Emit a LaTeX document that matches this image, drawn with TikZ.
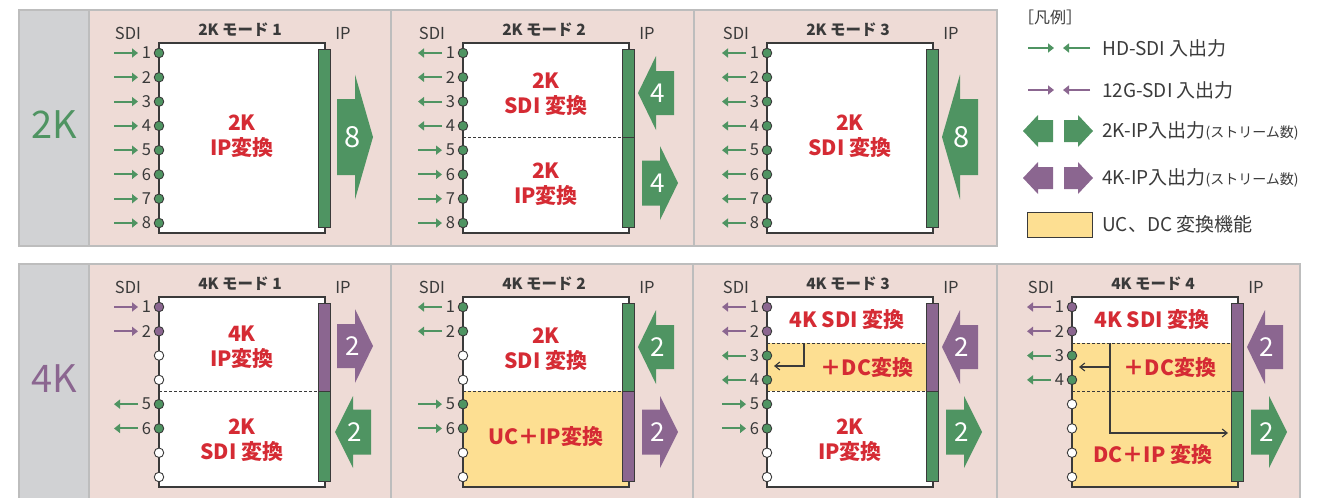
\documentclass[tikz,border=0pt]{standalone}
\usepackage{fontspec}
\setmainfont{Noto Sans CJK JP}
\usetikzlibrary{arrows.meta}
\definecolor{pinkbg}{HTML}{EEDBD6}
\definecolor{graycol}{HTML}{D1D2D4}
\definecolor{bordergray}{HTML}{BDBDBD}
\definecolor{grn}{HTML}{4F9462}
\definecolor{pur}{HTML}{8B6690}
\definecolor{redt}{HTML}{D52B34}
\definecolor{yel}{HTML}{FDDF92}
\definecolor{dk}{HTML}{3A3A3A}
\tikzset{
 lab/.style={font=\fontsize{16.5}{18}\selectfont, text=dk, inner sep=0pt},
 ttl/.style={font=\bfseries\fontsize{15.5}{18}\selectfont, text=dk, inner sep=0pt},
 rt/.style={font=\bfseries\fontsize{21}{25}\selectfont, text=redt, align=center, inner sep=0pt},
 num/.style={font=\fontsize{26}{28}\selectfont, text=white, inner sep=0pt},
 bigk/.style={font=\fontsize{38}{40}\selectfont, inner sep=0pt},
 leg/.style={font=\fontsize{19}{22}\selectfont, text=dk, inner sep=0pt, anchor=west},
 port/.style={circle, draw=dk, line width=0.9pt, minimum size=9.5pt, inner sep=0pt},
 sarr/.style={line width=2pt, -{Triangle[length=6pt,width=9pt]}},
 boxst/.style={draw=dk, line width=1.2pt, fill=white, minimum width=166pt, minimum height=190pt, inner sep=0pt},
 barst/.style={draw=dk, line width=1pt, minimum width=12pt, inner sep=0pt},
 dsh/.style={dk, line width=0.9pt, dash pattern=on 3pt off 2pt},
 conn/.style={dk, line width=1.1pt, -{Straight Barb[length=5pt,width=8pt]}},
}
\newcommand\portat[3]{\node[port,fill=#3] (#1) at (70,{43+24.29*(#2-1)}) {};}
\newcommand\pin[3]{%
  \portat{#1}{#2}{#3}
  \node[lab] (#1n) at (57.5,{43+24.29*(#2-1)}) {#2};
  \coordinate (#1s) at (25,{43+24.29*(#2-1)});
  \coordinate (#1e) at (49,{43+24.29*(#2-1)});
  \draw[sarr,#3] (#1s) -- (#1e);}
\newcommand\pout[3]{%
  \portat{#1}{#2}{#3}
  \node[lab] (#1n) at (57.5,{43+24.29*(#2-1)}) {#2};
  \coordinate (#1s) at (25,{43+24.29*(#2-1)});
  \coordinate (#1e) at (49,{43+24.29*(#2-1)});
  \draw[sarr,#3] (#1e) -- (#1s);}
\newcommand\pnone[2]{\portat{#1}{#2}{white}}
\newcommand\bigR[7]{%
  \fill[#6] (#2,#3-#4) -- (#2+18,#3-#4) -- (#2+18,#3-#5) -- (#2+36,#3) -- (#2+18,#3+#5) -- (#2+18,#3+#4) -- (#2,#3+#4) -- cycle;
  \node[num] (#1) at (#2+16,#3) {#7};}
\newcommand\bigL[7]{%
  \fill[#6] (#2,#3) -- (#2+18,#3-#5) -- (#2+18,#3-#4) -- (#2+36,#3-#4) -- (#2+36,#3+#4) -- (#2+18,#3+#4) -- (#2+18,#3+#5) -- cycle;
  \node[num] (#1) at (#2+20,#3) {#7};}
\newcommand\heads[2]{%
  \node[lab] (#1sdi) at (39,23) {SDI};
  \node[ttl] (#1t) at (151,20) {#2};
  \node[lab] (#1ip) at (254,23) {IP};
  \node[boxst] (#1b) at (153,128) {};}
\newcommand\fullbar[2]{\node[barst, fill=#2, minimum height=178pt] (#1bar) at (235.5,128) {};}
\newcommand\splitbar[3]{%
  \node[barst, fill=#2, minimum height=88pt] (#1bt) at (235.5,83) {};
  \node[barst, fill=#3, minimum height=90pt] (#1bb) at (235.5,172) {};}
\begin{document}
\begin{tikzpicture}[x=1pt,y=-1pt]
\useasboundingbox (0,0) rectangle (1326,498);
\clip (0,0) rectangle (1326,498);
% backgrounds
\fill[graycol] (19,10) rectangle (89,246);
\fill[pinkbg] (89,10) rectangle (997,246);
\draw[bordergray, line width=1.5pt] (19,10) rectangle (997,246);
\draw[bordergray, line width=1.5pt] (89,10) -- (89,246) (391,10) -- (391,246) (694,10) -- (694,246);
\fill[graycol] (19,264) rectangle (89,520);
\fill[pinkbg] (89,264) rectangle (1300,520);
\draw[bordergray, line width=1.5pt] (19,264) rectangle (1300,520);
\draw[bordergray, line width=1.5pt] (89,264) -- (89,520) (391,264) -- (391,520) (693,264) -- (693,520) (997,264) -- (997,520);
\node[bigk, text=grn] (k2) at (54,125) {2K};
\node[bigk, text=pur] (k4) at (54,379) {4K};

% ---- 2K mode 1
\begin{scope}[shift={(89,10)}]
 \heads{a}{2K モード 1}
 \fullbar{a}{grn}
 \foreach \i in {1,...,8} {\pin{ap\i}{\i}{grn}}
 \node[rt] (atx) at (153,126) {2K\\IP変換};
 \bigR{aar}{248}{127}{38}{62.5}{grn}{\fontsize{29}{30}\selectfont 8}
\end{scope}
% ---- 2K mode 2
\begin{scope}[shift={(393,10)}]
 \heads{b}{2K モード 2}
 \splitbar{b}{grn}{grn}
 \draw[dsh] (70,127) -- (229.5,127);
 \foreach \i in {1,...,4} {\pout{bp\i}{\i}{grn}}
 \foreach \i in {5,...,8} {\pin{bp\i}{\i}{grn}}
 \node[rt] (btx1) at (153,84) {2K\\SDI 変換};
 \node[rt] (btx2) at (153,174) {2K\\IP変換};
 \bigL{bar1}{245}{83}{22}{37}{grn}{4}
 \bigR{bar2}{249}{173}{22.5}{37}{grn}{4}
\end{scope}
% ---- 2K mode 3
\begin{scope}[shift={(697,10)}]
 \heads{c}{2K モード 3}
 \fullbar{c}{grn}
 \foreach \i in {1,...,8} {\pout{cp\i}{\i}{grn}}
 \node[rt] (ctx) at (153,126) {2K\\SDI 変換};
 \bigL{car}{245}{127}{38}{62.5}{grn}{\fontsize{29}{30}\selectfont 8}
\end{scope}
% ---- 4K mode 1
\begin{scope}[shift={(89,264)}]
 \heads{d}{4K モード 1}
 \splitbar{d}{pur}{grn}
 \draw[dsh] (70,127) -- (229.5,127);
 \pin{dp1}{1}{pur} \pin{dp2}{2}{pur}
 \pnone{dp3}{3} \pnone{dp4}{4}
 \pout{dp5}{5}{grn} \pout{dp6}{6}{grn}
 \pnone{dp7}{7} \pnone{dp8}{8}
 \node[rt] (dtx1) at (153,83) {4K\\IP変換};
 \node[rt] (dtx2) at (153,176) {2K\\SDI 変換};
 \bigR{dar1}{248}{82}{22}{37}{pur}{2}
 \bigL{dar2}{246}{168}{22.5}{36}{grn}{2}
\end{scope}
% ---- 4K mode 2
\begin{scope}[shift={(393,264)}]
 \heads{e}{4K モード 2}
 \fill[yel] (70.6,127) rectangle (235.4,222.4);
 \splitbar{e}{grn}{pur}
 \draw[dsh] (70,127) -- (229.5,127);
 \pout{ep1}{1}{grn} \pout{ep2}{2}{grn}
 \pnone{ep3}{3} \pnone{ep4}{4}
 \pin{ep5}{5}{grn} \pin{ep6}{6}{grn}
 \pnone{ep7}{7} \pnone{ep8}{8}
 \node[rt] (etx1) at (153,85) {2K\\SDI 変換};
 \node[rt] (etx2) at (153,173) {UC＋IP変換};
 \bigL{ear1}{245}{83}{22}{37}{grn}{2}
 \bigR{ear2}{249}{168}{22.5}{36}{pur}{2}
\end{scope}
% ---- 4K mode 3
\begin{scope}[shift={(697,264)}]
 \heads{f}{4K モード 3}
 \fill[yel] (70.6,79) rectangle (235.4,127);
 \splitbar{f}{pur}{grn}
 \draw[dsh] (70,79) -- (229.5,79) (70,127) -- (229.5,127);
 \pout{fp1}{1}{pur} \pout{fp2}{2}{pur}
 \pout{fp3}{3}{grn} \pout{fp4}{4}{grn}
 \pin{fp5}{5}{grn} \pin{fp6}{6}{grn}
 \pnone{fp7}{7} \pnone{fp8}{8}
 \node[rt] (ftx1) at (150,56) {4K SDI 変換};
 \node[rt] (ftx2) at (170,104) {＋DC変換};
 \node[rt] (ftx3) at (153,176) {2K\\IP変換};
 \coordinate (fc1) at (107,79);
 \coordinate (fc2) at (107,102);
 \coordinate (fc3) at (77,102);
 \draw[conn] (fc1) -- (fc2) -- (fc3);
 \bigL{far1}{245}{83}{22}{37}{pur}{2}
 \bigR{far2}{249}{168}{22.5}{36}{grn}{2}
\end{scope}
% ---- 4K mode 4
\begin{scope}[shift={(1002,264)}]
 \heads{g}{4K モード 4}
 \fill[yel] (70.6,79) rectangle (235.4,222.4);
 \splitbar{g}{pur}{grn}
 \draw[dsh] (70,79) -- (229.5,79) (70,127) -- (229.5,127);
 \pout{gp1}{1}{pur} \pout{gp2}{2}{pur}
 \pout{gp3}{3}{grn} \pout{gp4}{4}{grn}
 \pnone{gp5}{5} \pnone{gp6}{6} \pnone{gp7}{7} \pnone{gp8}{8}
 \node[rt] (gtx1) at (150,56) {4K SDI 変換};
 \node[rt] (gtx2) at (168,104) {＋DC変換};
 \node[rt] (gtx3) at (151,191) {DC＋IP 変換};
 \coordinate (gc1) at (108,79);
 \coordinate (gc2) at (108,103);
 \coordinate (gc3) at (77,103);
 \coordinate (gc4) at (108,169);
 \coordinate (gc5) at (226,169);
 \draw[conn] (gc1) -- (gc4) -- (gc5);
 \draw[conn] (gc2) -- (gc3);
 \bigL{gar1}{245}{83}{22}{37}{pur}{2}
 \bigR{gar2}{249}{168}{22.5}{36}{grn}{2}
\end{scope}
% ---- legend
\node[font=\fontsize{16}{18}\selectfont, text=dk, inner sep=0pt, anchor=west] (lt) at (1018,17) {［凡例］};
\coordinate (l1a) at (1028,48); \coordinate (l1b) at (1054,48);
\coordinate (l1c) at (1090,48); \coordinate (l1d) at (1063,48);
\draw[sarr,grn] (l1a) -- (l1b); \draw[sarr,grn] (l1c) -- (l1d);
\node[leg] (l1) at (1102,48) {HD-SDI 入出力};
\coordinate (l2a) at (1028,90); \coordinate (l2b) at (1054,90);
\coordinate (l2c) at (1090,90); \coordinate (l2d) at (1063,90);
\draw[sarr,pur] (l2a) -- (l2b); \draw[sarr,pur] (l2c) -- (l2d);
\node[leg] (l2) at (1102,90) {12G-SDI 入出力};
\fill[grn] (1023,131) -- (1038,115) -- (1038,120) -- (1053,120) -- (1053,142) -- (1038,142) -- (1038,147) -- cycle;
\fill[grn] (1064,120) -- (1078,120) -- (1078,115) -- (1093,131) -- (1078,147) -- (1078,142) -- (1064,142) -- cycle;
\node[leg] (l3) at (1102,131) {2K-IP入出力{\fontsize{14}{16}\selectfont(ストリーム数)}};
\fill[pur] (1023,178) -- (1038,162) -- (1038,167) -- (1053,167) -- (1053,189) -- (1038,189) -- (1038,194) -- cycle;
\fill[pur] (1064,167) -- (1078,167) -- (1078,162) -- (1093,178) -- (1078,194) -- (1078,189) -- (1064,189) -- cycle;
\node[leg] (l4) at (1102,178) {4K-IP入出力{\fontsize{14}{16}\selectfont(ストリーム数)}};
\node[draw=dk, line width=0.9pt, fill=yel, minimum width=65pt, minimum height=25pt, inner sep=0pt] (l5b) at (1059.5,224.5) {};
\node[leg] (l5) at (1102,224) {UC、DC 変換機能};
\end{tikzpicture}
\end{document}
